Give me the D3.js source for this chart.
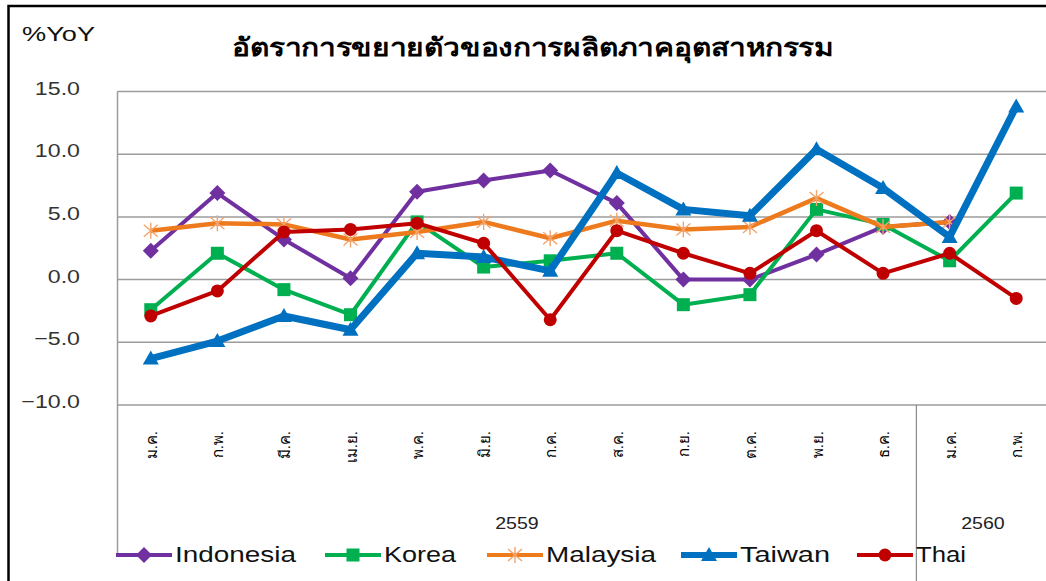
<!DOCTYPE html>
<html>
<head>
<meta charset="utf-8">
<script src="https://cdn.jsdelivr.net/npm/d3@7"></script>
<style>
  body { margin: 0; background: #fff; }
  svg { display: block; font-family: Arial, "Liberation Sans", sans-serif; }
</style>
</head>
<body>
<svg id="chart" width="1046" height="581"></svg>
<script>
// months (Thai abbreviations) and year groups
const months = ['ม.ค.', 'ก.พ.', 'มี.ค.', 'เม.ย.', 'พ.ค.', 'มิ.ย.', 'ก.ค.', 'ส.ค.', 'ก.ย.', 'ต.ค.', 'พ.ย.', 'ธ.ค.', 'ม.ค.', 'ก.พ.'];
const years = [{ label: '2559', from: 0, to: 11 }, { label: '2560', from: 12, to: 13 }];
const yTicks = [15, 10, 5, 0, -5, -10];

const indonesia = [2.3, 6.9, 3.2, 0.1, 7.0, 7.9, 8.7, 6.1, 0.0, 0.0, 2.0, 4.2, 4.6, null];
const korea     = [-2.4, 2.1, -0.8, -2.8, 4.6, 1.0, 1.5, 2.1, -2.0, -1.2, 5.6, 4.4, 1.5, 6.9];
const malaysia  = [3.9, 4.5, 4.4, 3.2, 3.8, 4.6, 3.3, 4.7, 4.0, 4.2, 6.5, 4.2, 4.6, null];
const taiwan    = [-6.3, -4.9, -2.9, -4.0, 2.1, 1.8, 0.7, 8.5, 5.6, 5.1, 10.4, 7.3, 3.4, 13.8];
const thai      = [-2.9, -0.9, 3.8, 4.0, 4.5, 2.9, -3.2, 3.9, 2.1, 0.5, 3.9, 0.5, 2.1, -1.5];

const series = [
  { name: 'Indonesia', values: indonesia, color: '#7030A0', width: 4, marker: 'diamond' },
  { name: 'Korea', values: korea, color: '#00B050', width: 4, marker: 'square' },
  { name: 'Malaysia', values: malaysia, color: '#EE7A1E', width: 4.5, marker: 'star' },
  { name: 'Taiwan', values: taiwan, color: '#0070C0', width: 7, marker: 'triangle' },
  { name: 'Thai', values: thai, color: '#C00000', width: 4, marker: 'circle' }
];

const svg = d3.select('#chart');

const x = d3.scaleBand().domain(d3.range(months.length)).range([117.5, 1049.5]);
const y = d3.scaleLinear().domain([-10, 15]).range([405, 91.5]);
const cx = i => x(i) + x.bandwidth() / 2;

// stretch text horizontally, like the wide glyphs in the source picture
function stretch(sel, k) {
  sel.each(function () {
    const len = this.getComputedTextLength();
    d3.select(this).attr('textLength', len * k).attr('lengthAdjust', 'spacingAndGlyphs');
  });
}

// outer frame (left and top edges only visible)
svg.append('path')
  .attr('d', 'M8.5,581 V6 H1046')
  .attr('fill', 'none')
  .attr('stroke', '#000')
  .attr('stroke-width', 2.5);

svg.append('text')
  .attr('x', 22).attr('y', 41)
  .attr('font-size', 21)
  .attr('textLength', 73)
  .attr('lengthAdjust', 'spacingAndGlyphs')
  .attr('fill', '#111')
  .text('%YoY');

svg.append('text')
  .attr('x', 232).attr('y', 56)
  .attr('font-size', 25)
  .attr('font-weight', 'bold')
  .attr('textLength', 601)
  .attr('lengthAdjust', 'spacingAndGlyphs')
  .attr('fill', '#000')
  .text('อัตราการขยายตัวของการผลิตภาคอุตสาหกรรม');

// gridlines
svg.append('g')
  .selectAll('line')
  .data(yTicks)
  .join('line')
  .attr('x1', x.range()[0]).attr('x2', x.range()[1])
  .attr('y1', d => y(d)).attr('y2', d => y(d))
  .attr('stroke', '#9c9c9c')
  .attr('stroke-width', 1.5);

// y tick labels
svg.append('g')
  .selectAll('text')
  .data(yTicks)
  .join('text')
  .attr('x', 80)
  .attr('y', d => y(d) + 3)
  .attr('text-anchor', 'end')
  .attr('font-size', 19)
  .attr('fill', '#333')
  .text(d => d3.format('.1f')(d))
  .call(stretch, 1.22);

// category axis: left line and year separator
svg.append('line')
  .attr('x1', x.range()[0]).attr('x2', x.range()[0])
  .attr('y1', y(15)).attr('y2', 553)
  .attr('stroke', '#9c9c9c').attr('stroke-width', 1.5);
svg.append('line')
  .attr('x1', x(12)).attr('x2', x(12))
  .attr('y1', y(-10)).attr('y2', 581)
  .attr('stroke', '#888').attr('stroke-width', 1.2);

// month labels (rotated)
svg.append('g')
  .selectAll('text')
  .data(months)
  .join('text')
  .attr('transform', (d, i) => `translate(${cx(i) + 6},431) rotate(-90)`)
  .attr('text-anchor', 'end')
  .attr('font-size', 15)
  .attr('fill', '#000')
  .text(d => d);

// year labels
svg.append('g')
  .selectAll('text')
  .data(years)
  .join('text')
  .attr('x', d => (x(d.from) + x(d.to) + x.bandwidth()) / 2)
  .attr('y', 529)
  .attr('text-anchor', 'middle')
  .attr('font-size', 17)
  .attr('fill', '#222')
  .text(d => d.label)
  .call(stretch, 1.15);

function drawMarker(g, s, px, py) {
  const c = s.color;
  if (s.marker === 'diamond') {
    g.append('path').attr('d', `M${px},${py - 8}L${px + 8},${py}L${px},${py + 8}L${px - 8},${py}Z`).attr('fill', c);
  } else if (s.marker === 'square') {
    g.append('rect').attr('x', px - 6.5).attr('y', py - 6.5).attr('width', 13).attr('height', 13).attr('fill', c);
  } else if (s.marker === 'triangle') {
    g.append('path').attr('d', `M${px},${py - 8}L${px + 8},${py + 6}L${px - 8},${py + 6}Z`).attr('fill', c);
  } else if (s.marker === 'circle') {
    g.append('circle').attr('cx', px).attr('cy', py).attr('r', 6.5).attr('fill', c);
  } else if (s.marker === 'star') {
    g.append('path')
      .attr('d', `M${px},${py - 8}V${py + 8}M${px - 7},${py - 6}L${px + 7},${py + 6}M${px - 7},${py + 6}L${px + 7},${py - 6}`)
      .attr('stroke', '#F4A36A').attr('stroke-width', 1.4).attr('fill', 'none');
  }
}

const line = d3.line()
  .defined(d => d.v != null)
  .x(d => cx(d.i))
  .y(d => y(d.v));

series.forEach(s => {
  const pts = s.values.map((v, i) => ({ v, i }));
  const g = svg.append('g');
  g.append('path')
    .attr('d', line(pts))
    .attr('fill', 'none')
    .attr('stroke', s.color)
    .attr('stroke-width', s.width)
    .attr('stroke-linejoin', 'round');
  pts.filter(d => d.v != null).forEach(d => drawMarker(g, s, cx(d.i), y(d.v)));
});

// legend
const legendX = [116, 325, 487, 681, 857];
const legendW = [121, 72, 110, 90, 50];
const legend = svg.append('g');
series.forEach((s, i) => {
  const lx = legendX[i];
  const g = legend.append('g');
  g.append('line')
    .attr('x1', lx).attr('x2', lx + 56)
    .attr('y1', 555).attr('y2', 555)
    .attr('stroke', s.color)
    .attr('stroke-width', s.marker === 'triangle' ? 6 : 4);
  drawMarker(g, s, lx + 28, 555);
  g.append('text')
    .attr('x', lx + 59).attr('y', 562)
    .attr('font-size', 22)
    .attr('textLength', legendW[i])
    .attr('lengthAdjust', 'spacingAndGlyphs')
    .attr('fill', '#111')
    .text(s.name);
});
</script>
</body>
</html>
